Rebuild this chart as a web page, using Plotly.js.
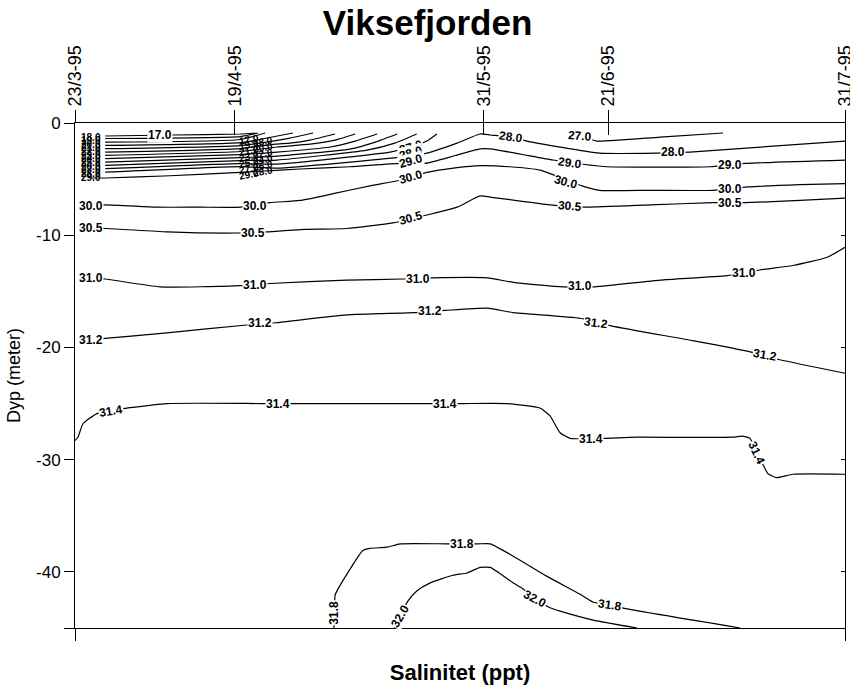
<!DOCTYPE html>
<html><head><meta charset="utf-8">
<script src="https://cdn.plot.ly/plotly-3.0.1.min.js"></script>
<style>html,body{margin:0;padding:0;background:#fff}#chart{width:850px;height:692px}</style>
</head><body><div id="chart"></div>
<script>
// Sampling dates, as days after 23/3-95
const dateDays = [0, 27, 69, 90, 130];
const dateLabels = ['23/3-95', '19/4-95', '31/5-95', '21/6-95', '31/7-95'];
const depthTicks = [0, -10, -20, -30, -40, -45];
const depthTickText = ['0', '-10', '-20', '-30', '-40', ''];
const rightTicks = [-10, -20, -30, -40];

// Isohaline lines (x = days after 23/3-95, y = depth in m)
const s170x = [5.1, 16.4, 27.9, 30.4];
const s170y = [-1.16, -1.07, -0.98, -0.89];
const s180x = [5.1, 27.9, 30.9];
const s180y = [-1.38, -1.21, -0.89];
const s190x = [5.1, 27.9, 32.1];
const s190y = [-1.70, -1.47, -0.89];
const s200x = [5.1, 27.9, 33.3, 36.8];
const s200y = [-1.99, -1.74, -1.25, -0.89];
const s210x = [5.1, 27.9, 33.4, 36.3, 40.2];
const s210y = [-2.29, -2.01, -1.61, -1.34, -0.89];
const s220x = [5.1, 27.9, 33.8, 36.3, 39.7, 43.9];
const s220y = [-2.59, -2.28, -1.88, -1.79, -1.52, -0.98];
const s230x = [5.1, 27.9, 34.1, 39.7, 43.9, 47.3];
const s230y = [-2.88, -2.54, -2.14, -1.88, -1.52, -0.98];
const s240x = [5.1, 27.9, 34.1, 43.1, 47.3, 51.0];
const s240y = [-3.18, -2.81, -2.59, -2.14, -1.61, -0.98];
const s250x = [5.1, 27.9, 34.1, 46.4, 50.7, 54.4];
const s250y = [-3.48, -3.08, -2.95, -2.32, -1.70, -0.98];
const s260x = [5.1, 27.9, 34.1, 49.3, 54.0, 57.7];
const s260y = [-3.78, -3.35, -3.30, -2.41, -1.79, -0.98];
const s270x = [5.1, 27.9, 34.1, 53.2, 56.7, 59.4, 61.1];
const s270y = [-4.07, -3.62, -3.66, -2.59, -2.14, -1.61, -0.98];
const s270bx = [85.3, 88.1, 98.8, 109.4];
const s270by = [-1.16, -1.61, -1.25, -0.89];
const s280x = [5.1, 27.9, 34.1, 54.9, 59.4, 64.5, 68.4, 70.1, 73.6, 76.3, 88.6, 98.3, 103.8, 130];
const s280y = [-4.38, -3.88, -4.02, -3.04, -2.68, -1.79, -0.98, -1.07, -1.25, -1.61, -2.68, -2.68, -2.59, -1.61];
const s290x = [2.5, 5.1, 16.1, 27.9, 31.2, 38.0, 46.4, 54.9, 59.1, 64.2, 68.4, 70.1, 80.7, 86.1, 89.8, 107.2, 113.1, 130];
const s290y = [-4.9, -4.9, -4.7, -4.4, -4.3, -4.1, -3.9, -3.6, -3.6, -2.9, -2.3, -2.3, -3.3, -3.7, -3.9, -3.9, -3.6, -3.3];
const s300x = [2.5, 5.1, 13.8, 21.1, 27.9, 32.9, 38.0, 43.6, 49.8, 54.9, 59.4, 64.2, 68.4, 73.4, 78.5, 85.6, 88.6, 97.1, 107.7, 113.5, 122.4, 130];
const s300y = [-7.4, -7.3, -7.5, -7.5, -7.5, -7.1, -6.9, -6.3, -5.6, -5.1, -4.4, -4.0, -3.8, -3.9, -4.2, -5.6, -6.0, -6.0, -6.0, -5.7, -5.5, -5.4];
const s305x = [2.5, 5.4, 15.5, 27.4, 32.4, 38.0, 45.9, 53.7, 59.4, 64.5, 68.4, 70.1, 80.2, 86.1, 97.1, 107.7, 113.1, 122.4, 130];
const s305y = [-9.4, -9.4, -9.7, -9.8, -9.7, -9.5, -9.4, -8.9, -8.2, -7.5, -6.5, -6.6, -7.3, -7.5, -7.3, -7.1, -7.1, -6.9, -6.7];
const s310x = [2.5, 5.1, 14.4, 27.9, 32.9, 45.9, 55.4, 60.4, 69.6, 74.0, 82.4, 87.8, 98.8, 110.1, 115.6, 121.2, 127.0, 130];
const s310y = [-13.8, -13.9, -14.6, -14.5, -14.3, -14.0, -13.9, -13.8, -13.8, -14.2, -14.6, -14.6, -14.0, -13.6, -13.1, -12.7, -11.96, -11.07];
const s312x = [2.5, 5.1, 15.5, 29.0, 33.8, 45.9, 57.1, 62.5, 69.6, 74.0, 85.3, 90.7, 104.3, 114.0, 119.0, 130];
const s312y = [-19.4, -19.2, -18.7, -18.0, -17.8, -17.1, -16.9, -16.7, -16.5, -16.9, -17.4, -18.1, -19.4, -20.4, -21.1, -22.3];
const s314x = [0, 0.5, 1.35, 3.7, 6.1, 8.8, 15.5, 31.7, 37.1, 59.9, 65.3, 72.9, 78.5, 80.2, 81.9, 83.6, 94.9, 111.1, 112.6, 113.96, 115.1, 116.2, 117.0, 118.5, 121.2, 130];
const s314y = [-28.3, -28.0, -26.8, -25.9, -25.6, -25.4, -25.0, -25.0, -25.0, -25.0, -25.0, -25.0, -25.4, -26.1, -27.6, -28.1, -28.0, -28.0, -27.9, -28.1, -29.4, -30.5, -31.25, -31.6, -31.3, -31.3];
const s318x = [43.7, 43.9, 43.9, 44.7, 48.6, 49.8, 52.7, 54.9, 62.8, 68.0, 70.1, 74.0, 79.7, 85.3, 87.5, 90.3, 93.2, 112.3];
const s318y = [-45, -43.7, -42.1, -41.25, -38.1, -37.9, -37.8, -37.5, -37.5, -37.5, -37.5, -38.6, -40.4, -42.0, -42.7, -42.95, -43.3, -45];
const s320x = [53.9, 54.9, 56.2, 57.7, 59.9, 63.8, 66.2, 68.4, 70.1, 74.0, 75.6, 77.7, 80.2, 81.9, 87.5, 94.9];
const s320y = [-45, -43.9, -42.6, -41.7, -41.0, -40.3, -40.1, -39.6, -39.6, -41.0, -41.5, -42.4, -43.2, -43.5, -44.3, -45];

// Line labels
const labelText = ['17.0',
  '30.0', '30.0', '30.0', '30.0', '30.0',
  '30.5', '30.5', '30.5', '30.5', '30.5',
  '31.0', '31.0', '31.0', '31.0', '31.0',
  '31.2', '31.2', '31.2', '31.2', '31.2',
  '31.4', '31.4', '31.4', '31.4', '31.4',
  '31.8', '31.8', '31.8',
  '32.0', '32.0',
  '27.0', '28.0', '29.0', '30.0',
  '28.0', '28.0', '27.0', '29.0', '29.0'];
const labelX = [14.35,
  2.7, 30.4, 110.6, 82.9, 56.7,
  2.7, 30.05, 56.7, 83.6, 110.6,
  2.7, 30.4, 57.9, 85.3, 112.95,
  2.7, 31.2, 59.9, 88.0, 116.5,
  6.1, 34.3, 62.5, 87.1, 115.1,
  43.7, 65.3, 90.3,
  54.9, 77.7,
  56.7, 56.7, 56.7, 56.7,
  73.6, 101.0, 85.3, 83.6, 110.6];
const labelY = [-1.07,
  -7.41, -7.41, -5.89, -5.27, -4.82,
  -9.38, -9.82, -8.48, -7.41, -7.14,
  -13.84, -14.46, -13.93, -14.55, -13.39,
  -19.38, -17.86, -16.79, -17.86, -20.71,
  -25.63, -25.0, -25.0, -28.13, -29.38,
  -43.66, -37.5, -42.95,
  -43.93, -42.41,
  -2.14, -2.68, -3.39, -4.82,
  -1.25, -2.59, -1.16, -3.57, -3.75];
const labelAngle = [0,
  0, 0, 0, 15, -15,
  0, 0, -15, 5, 0,
  0, 0, 0, 0, 0,
  0, 0, 0, 8, 10,
  -10, 0, 0, 0, 65,
  -90, 0, 8,
  -60, 28,
  -15, -15, -15, -15,
  8, 0, 5, 8, 0];

// Crowded labels of the surface layer
const stackText = ['18.0', '19.0', '20.0', '21.0', '22.0', '23.0', '24.0', '25.0', '26.0', '27.0', '28.0', '29.0'];
const stackY = [-1.25, -1.57, -1.90, -2.22, -2.54, -2.87, -3.20, -3.53, -3.85, -4.17, -4.50, -4.82];
const clusterText = ['17.0', '18.0', '19.0', '20.0', '21.0', '22.0', '23.0', '24.0', '25.0', '26.0', '27.0', '28.0', '29.0'];
const clusterX = [29.4, 31.7, 29.4, 31.7, 29.4, 31.7, 29.4, 31.7, 29.4, 31.7, 29.4, 31.7, 29.4];
const clusterY = [-1.43, -1.69, -1.95, -2.21, -2.47, -2.73, -2.99, -3.25, -3.51, -3.77, -4.04, -4.30, -4.55];

const FONT = 'Liberation Sans, Arial, sans-serif';
const lines = [[s170x, s170y], [s180x, s180y], [s190x, s190y], [s200x, s200y], [s210x, s210y],
  [s220x, s220y], [s230x, s230y], [s240x, s240y], [s250x, s250y], [s260x, s260y],
  [s270x, s270y], [s270bx, s270by], [s280x, s280y], [s290x, s290y], [s300x, s300y],
  [s305x, s305y], [s310x, s310y], [s312x, s312y], [s314x, s314y], [s318x, s318y], [s320x, s320y]];

const traces = lines.map(p => ({
  type: 'scatter', mode: 'lines', x: p[0], y: p[1], xaxis: 'x', yaxis: 'y',
  line: {color: '#000', width: 1.2, shape: 'spline', smoothing: 0.5},
  hoverinfo: 'skip', cliponaxis: true
}));
traces.push({type: 'scatter', mode: 'lines', x: [], y: [], xaxis: 'x2', yaxis: 'y', hoverinfo: 'skip'});
traces.push({type: 'scatter', mode: 'lines', x: [], y: [], xaxis: 'x3', yaxis: 'y', hoverinfo: 'skip'});
traces.push({type: 'scatter', mode: 'lines', x: [], y: [], xaxis: 'x', yaxis: 'y2', hoverinfo: 'skip'});

const annotations = [];
stackText.forEach((t, i) => annotations.push({
  x: 2.7, y: stackY[i], xref: 'x', yref: 'y', text: t, showarrow: false,
  font: {family: FONT, size: 10, weight: 'bold', color: '#000'}
}));
clusterText.forEach((t, i) => annotations.push({
  x: clusterX[i], y: clusterY[i], xref: 'x', yref: 'y', text: t, showarrow: false, textangle: -10,
  font: {family: FONT, size: 10, weight: 'bold', color: '#000'}
}));
labelText.forEach((t, i) => annotations.push({
  x: labelX[i], y: labelY[i], xref: 'x', yref: 'y', text: t, showarrow: false,
  textangle: labelAngle[i], bgcolor: '#fff', borderpad: 0,
  font: {family: FONT, size: 12, weight: 'bold', color: '#000'}
}));

const axisCommon = {showgrid: false, zeroline: false, linecolor: '#000', linewidth: 1, tickcolor: '#000', tickwidth: 1, fixedrange: true};

const layout = {
  width: 850, height: 692,
  margin: {l: 75, r: 5, t: 123, b: 64},
  paper_bgcolor: '#fff', plot_bgcolor: '#fff',
  showlegend: false,
  title: {text: 'Viksefjorden', x: 0.503, xanchor: 'center', y: 0.967, yanchor: 'middle',
    font: {family: FONT, size: 35, weight: 'bold', color: '#000'}},
  xaxis: Object.assign({}, axisCommon, {
    range: [0, 130], side: 'top', anchor: 'y', tickmode: 'array', tickvals: dateDays, ticktext: dateLabels,
    ticks: 'outside', ticklen: 12, tickangle: -90, showline: true, ticklabeloverflow: 'allow',
    tickfont: {family: FONT, size: 18, color: '#000'}
  }),
  xaxis2: Object.assign({}, axisCommon, {
    range: [0, 130], side: 'top', overlaying: 'x', anchor: 'y', tickmode: 'array', tickvals: dateDays,
    ticks: 'inside', ticklen: 12, showticklabels: false, showline: false
  }),
  xaxis3: Object.assign({}, axisCommon, {
    range: [0, 130], side: 'bottom', overlaying: 'x', anchor: 'y', tickmode: 'array', tickvals: [0, 130],
    ticks: 'outside', ticklen: 12, showticklabels: false, showline: true,
    title: {text: 'Salinitet (ppt)', standoff: 24, font: {family: FONT, size: 22, weight: 'bold', color: '#000'}}
  }),
  yaxis: Object.assign({}, axisCommon, {
    range: [-45, 0], side: 'left', anchor: 'x', tickmode: 'array', tickvals: depthTicks, ticktext: depthTickText,
    ticks: 'outside', ticklen: 10, showline: true,
    tickfont: {family: FONT, size: 17, color: '#000'},
    title: {text: 'Dyp (meter)', standoff: 10, font: {family: FONT, size: 18, color: '#000'}}
  }),
  yaxis2: Object.assign({}, axisCommon, {
    range: [-45, 0], side: 'right', overlaying: 'y', anchor: 'x', tickmode: 'array', tickvals: rightTicks,
    ticks: 'inside', ticklen: 4, showticklabels: false, showline: true
  }),
  annotations: annotations
};

Plotly.newPlot('chart', traces, layout, {displayModeBar: false, staticPlot: true});
</script>
</body></html>
